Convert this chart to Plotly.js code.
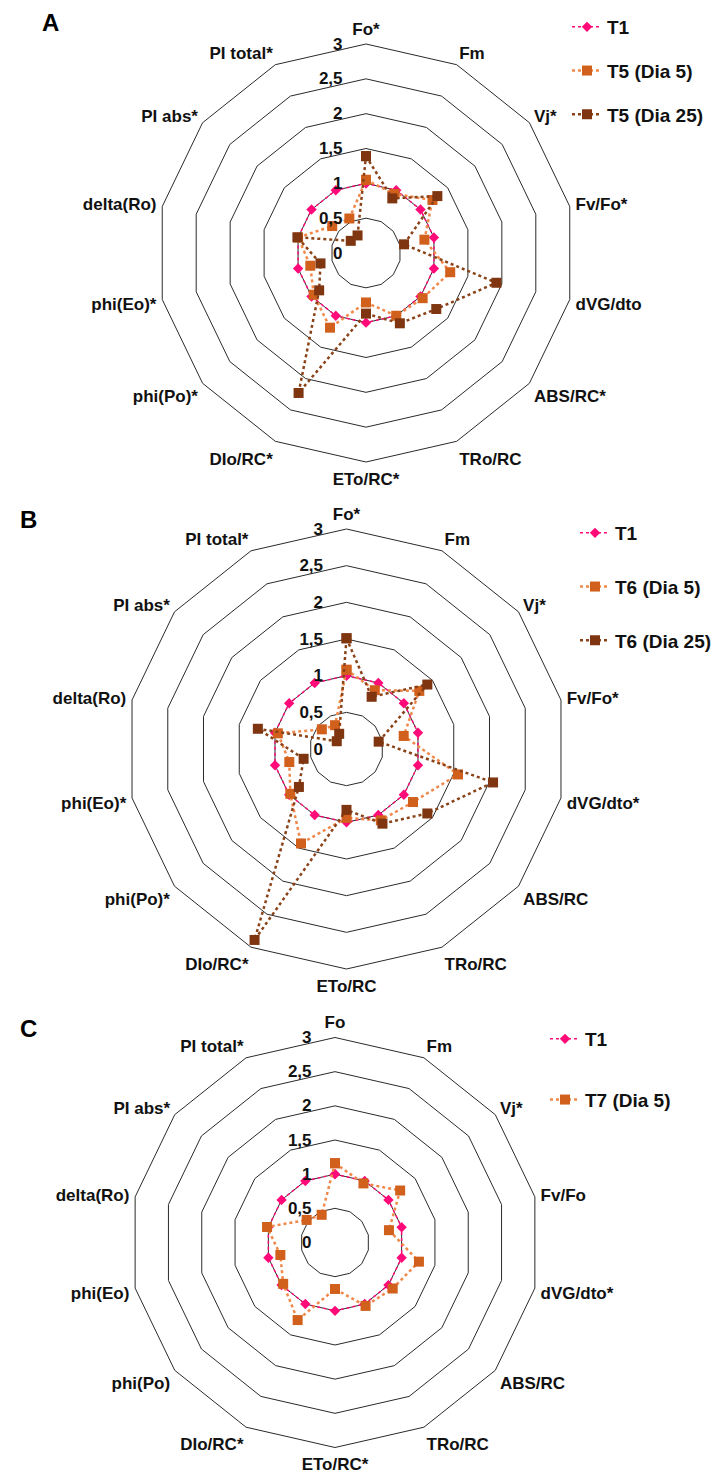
<!DOCTYPE html>
<html>
<head>
<meta charset="utf-8">
<script src="https://cdn.plot.ly/plotly-3.0.1.min.js"></script>
<style>html,body{margin:0;padding:0;background:#fff;}#chart{width:720px;height:1474px;}</style>
</head>
<body>
<div id="chart"></div>
<script>
// Categories for each panel
const catsA = ['Fo*','Fm','Vj*','Fv/Fo*','dVG/dto','ABS/RC*','TRo/RC','ETo/RC*','DIo/RC*','phi(Po)*','phi(Eo)*','delta(Ro)','PI abs*','PI total*'];
const catsB = ['Fo*','Fm','Vj*','Fv/Fo*','dVG/dto*','ABS/RC','TRo/RC','ETo/RC','DIo/RC*','phi(Po)*','phi(Eo)*','delta(Ro)','PI abs*','PI total*'];
const catsC = ['Fo','Fm','Vj*','Fv/Fo','dVG/dto*','ABS/RC','TRo/RC','ETo/RC*','DIo/RC*','phi(Po)','phi(Eo)','delta(Ro)','PI abs*','PI total*'];

// Series values (relative to T1 control)
const t1 = [1,1,1,1,1,1,1,1,1,1,1,1,1,1];
const t5dia5  = [1.05,0.94,1.22,0.86,1.24,1.04,1.00,0.71,1.19,0.96,0.82,1.00,0.62,0.55];
const t5dia25 = [1.39,0.87,1.31,0.56,1.92,1.29,1.12,0.87,2.23,0.86,0.67,1.01,0.28,0.28];
const t6dia5  = [1.08,0.89,1.27,0.80,1.56,1.16,1.08,0.94,1.43,0.98,0.80,0.96,0.43,0.36];
const t6dia25 = [1.51,0.79,1.41,0.45,2.05,1.41,1.13,0.83,2.89,0.83,0.60,1.24,0.17,0.23];
const t7dia5  = [1.16,0.96,1.22,0.81,1.26,1.08,1.03,0.68,1.26,0.97,0.82,1.02,0.53,0.45];

// Series names and panel letters
const namesA = ['T1','T5 (Dia 5)','T5 (Dia 25)'];
const namesB = ['T1','T6 (Dia 5)','T6 (Dia 25)'];
const namesC = ['T1','T7 (Dia 5)'];
const panelLetters = ['A','B','C'];
const radialTicks = [0,0.5,1,1.5,2,2.5,3];

const FONT = 'Liberation Sans, Arial, sans-serif';
const PINK = '#ff0a78', ORANGE = '#d0601c', ORANGE_L = '#f0884a', BROWN = '#7e3510', BROWN_L = '#8a4218';

function close(a){ return a.concat([a[0]]); }

function styleFor(i){
  if(i===0) return {line:{color:PINK,width:1.5,dash:'dot'}, marker:{symbol:'diamond',size:8,color:PINK}};
  if(i===1) return {line:{color:ORANGE_L,width:2.5,dash:'dot'}, marker:{symbol:'square',size:10,color:ORANGE}};
  return {line:{color:BROWN_L,width:2.5,dash:'dot'}, marker:{symbol:'square',size:10,color:BROWN}};
}

function mk(cats, vals, name, idx, polar, legend, grp){
  const s = styleFor(idx);
  return {type:'scatterpolar', mode:'lines+markers', r:close(vals), theta:close(cats),
    name:name, subplot:polar, legend:legend, legendgroup:grp+idx,
    line:s.line, marker:s.marker, cliponaxis:false};
}

const data = [];
[[t1,0],[t5dia5,1],[t5dia25,2]].forEach(([v,i])=>data.push(mk(catsA,v,namesA[i],i,'polar','legend','a')));
[[t1,0],[t6dia5,1],[t6dia25,2]].forEach(([v,i])=>data.push(mk(catsB,v,namesB[i],i,'polar2','legend2','b')));
[[t1,0],[t7dia5,1]].forEach(([v,i])=>data.push(mk(catsC,v,namesC[i],i,'polar3','legend3','c')));

function polarCfg(dom){
  return {
    domain:dom, bgcolor:'rgba(0,0,0,0)', gridshape:'linear',
    radialaxis:{range:[0,3], tickvals:radialTicks, angle:90, side:'counterclockwise', tickangle:90,
      showline:false, gridcolor:'#2a2a2a', gridwidth:1,
      ticks:'outside', ticklen:17, tickcolor:'rgba(0,0,0,0)',
      tickfont:{family:FONT,size:17,weight:'bold',color:'#111'}},
    angularaxis:{type:'category', direction:'clockwise', rotation:90, showgrid:false,
      showline:true, linecolor:'#2a2a2a', linewidth:1,
      ticks:'outside', ticklen:2, tickcolor:'rgba(0,0,0,0)',
      tickfont:{family:FONT,size:17,weight:'bold',color:'#111'}}
  };
}
const W=720,H=1474;
function dom(cx,cy,R){ return {x:[(cx-R)/W,(cx+R)/W], y:[1-(cy+R)/H,1-(cy-R)/H]}; }

function legendCfg(x,y,gap){
  return {x:x/W, y:1-y/H, xanchor:'left', yanchor:'top', bgcolor:'rgba(0,0,0,0)',
    traceorder:'grouped', tracegroupgap:gap, itemwidth:30,
    font:{family:FONT,size:19,weight:'bold',color:'#111'}};
}

function letter(t,x,y){
  return {text:t, x:x/W, y:1-y/H, xref:'paper', yref:'paper', xanchor:'center', yanchor:'middle',
    showarrow:false, font:{family:FONT,size:24,weight:'bold',color:'#000'}};
}

const layout = {
  width:W, height:H, margin:{l:0,r:0,t:0,b:0}, paper_bgcolor:'#fff',
  separators:', ', showlegend:true,
  polar:polarCfg(dom(366,253,209)),
  polar2:polarCfg(dom(346.5,749,220)),
  polar3:polarCfg(dom(335,1242.5,205)),
  legend:legendCfg(567,8,16),
  legend2:legendCfg(575,514,26),
  legend3:legendCfg(545,1020,33),
  annotations:[letter(panelLetters[0],50,22), letter(panelLetters[1],28,520), letter(panelLetters[2],28,1028)]
};

Plotly.newPlot('chart', data, layout, {displayModeBar:false, staticPlot:true});
</script>
</body>
</html>
